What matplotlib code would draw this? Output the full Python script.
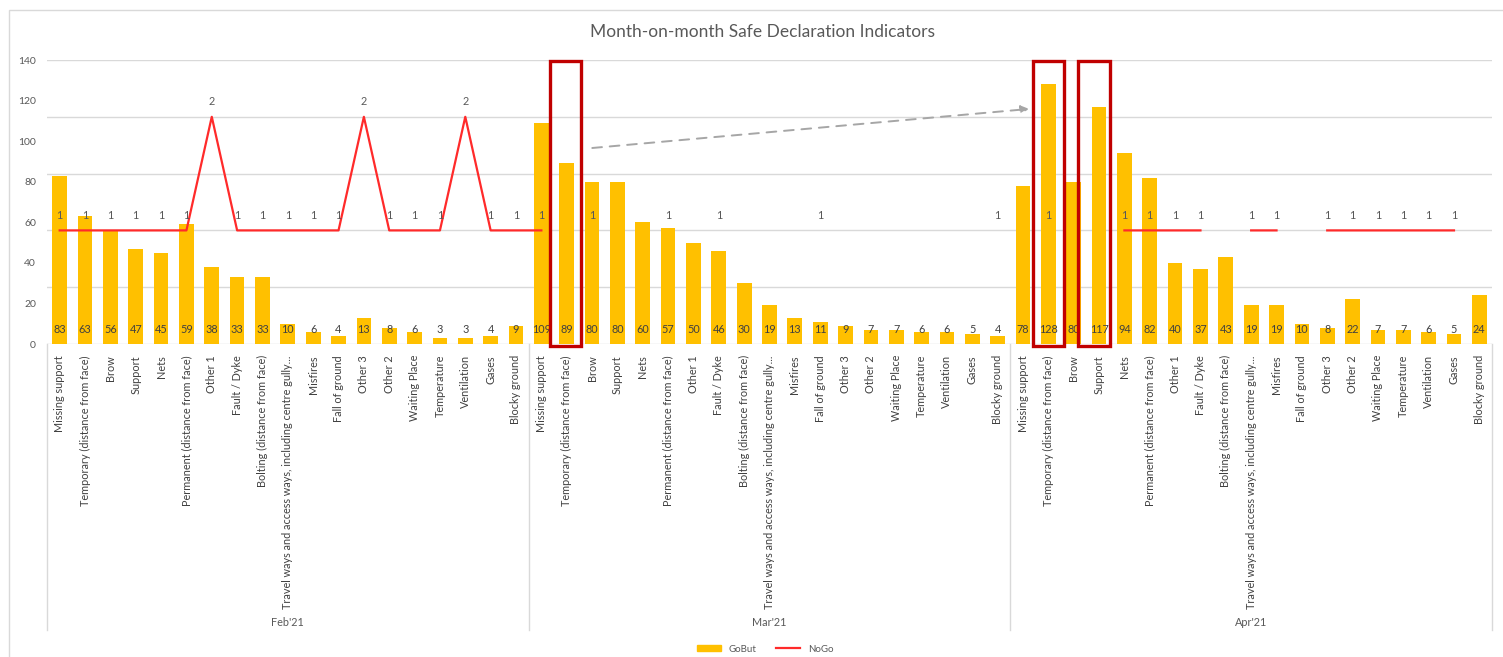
import numpy as np
import matplotlib
matplotlib.use("Agg")
import matplotlib.pyplot as plt
from matplotlib.patches import Rectangle
from matplotlib.lines import Line2D

plt.rcParams['font.family'] = ['Lato', 'DejaVu Sans']

categories = ['Missing support', 'Temporary (distance from face)', 'Brow', 'Support', 'Nets',
              'Permanent (distance from face)', 'Other 1', 'Fault / Dyke',
              'Bolting (distance from face)',
              'Travel ways and access ways, including centre gully...',
              'Misfires', 'Fall of ground', 'Other 3', 'Other 2', 'Waiting Place',
              'Temperature', 'Ventilation', 'Gases', 'Blocky ground']
months = ["Feb'21", "Mar'21", "Apr'21"]

gobut_feb = [83, 63, 56, 47, 45, 59, 38, 33, 33, 10, 6, 4, 13, 8, 6, 3, 3, 4, 9]
gobut_mar = [109, 89, 80, 80, 60, 57, 50, 46, 30, 19, 13, 11, 9, 7, 7, 6, 6, 5, 4]
gobut_apr = [78, 128, 80, 117, 94, 82, 40, 37, 43, 19, 19, 10, 8, 22, 7, 7, 6, 5, 24]

nan = np.nan
nogo_feb = [1, 1, 1, 1, 1, 1, 2, 1, 1, 1, 1, 1, 2, 1, 1, 1, 2, 1, 1]
nogo_mar = [1, nan, 1, nan, nan, 1, nan, 1, nan, nan, nan, 1, nan, nan, nan, nan, nan, nan, 1]
nogo_apr = [nan, 1, nan, nan, 1, 1, 1, 1, nan, 1, 1, nan, 1, 1, 1, 1, 1, 1, nan]

gobut = np.array(gobut_feb + gobut_mar + gobut_apr, dtype=float)
nogo = np.array(nogo_feb + nogo_mar + nogo_apr, dtype=float)
n_cat = len(categories)
x = np.arange(len(gobut))

W, H = 1503, 657
fig = plt.figure(figsize=(W / 100, H / 100), dpi=100)
ax = fig.add_axes([47 / W, 1 - 344 / H, (1492 - 47) / W, (344 - 60) / H])
ax2 = ax.twinx()

grey_txt = '#595959'
ax.set_ylim(0, 140)
ax.set_xlim(-0.5, len(x) - 0.5)
ax2.set_ylim(0, 2.5)
ax2_ticks = np.arange(0, 2.51, 0.5)
ax2.set_yticks(ax2_ticks)
ax2.set_yticklabels([f'{t:g}' for t in ax2_ticks])
for t in ax2_ticks:
    ax.axhline(t * 140 / 2.5, color='#D9D9D9', lw=1, zorder=0)

ax.set_yticks(np.arange(0, 141, 20))
ax.tick_params(axis='y', length=0, labelsize=7.5, labelcolor=grey_txt, pad=8)
ax2.tick_params(axis='y', length=0, labelsize=7.5, labelcolor=grey_txt, pad=8)
for a in (ax, ax2):
    for s in a.spines.values():
        s.set_visible(False)

bars = ax.bar(x, gobut, width=0.58, color='#FFC000', zorder=2, label='GoBut')
for xi, v in zip(x, gobut):
    ax.text(xi, 7, f'{int(v)}', ha='center', va='center', fontsize=7.8, color='#404040', zorder=3)

ax2.plot(x, nogo, color='#FF2A2A', lw=1.6, label='NoGo')
for xi, v in zip(x, nogo):
    if not np.isnan(v):
        ax2.annotate(f'{int(v)}', (xi, v), xytext=(0, 11), textcoords='offset points',
                     ha='center', va='center', fontsize=7.8, color=grey_txt)

ax.set_xticks(x)
ax.set_xticklabels(categories * len(months), rotation=90, fontsize=7.8, color='#404040', va='top')
ax.tick_params(axis='x', length=0, pad=8)

# group separators and month labels
trans = ax.get_xaxis_transform()
for b in np.arange(len(months) + 1) * n_cat - 0.5:
    ax.plot([b, b], [0, -1.007], transform=trans, color='#D9D9D9', lw=1, clip_on=False)
for i, m in enumerate(months):
    ax.text(i * n_cat + (n_cat - 1) / 2, -0.979, m, transform=trans, ha='center', va='center',
            fontsize=7.8, color=grey_txt)

# highlight boxes
i_mar_temp = n_cat + 1
i_apr_temp = 2 * n_cat + 1
i_apr_supp = 2 * n_cat + 3
for xc, l, r in [(i_mar_temp, 0.65, 0.55), (i_apr_temp, 0.6, 0.6), (i_apr_supp, 0.85, 0.45)]:
    ax.add_patch(Rectangle((xc - l, -1), l + r, 140.5, fill=False, edgecolor='#C00000',
                           lw=2.4, zorder=4, clip_on=False))
ax.annotate('', xy=(i_apr_temp - 0.65, 116), xytext=(i_mar_temp + 0.9, 96.5),
            arrowprops=dict(arrowstyle='-|>', color='#A6A6A6', lw=1.4, linestyle=(0, (5, 4)),
                            mutation_scale=12), zorder=4)

fig.text(0.507, 1 - 32 / H, 'Month-on-month Safe Declaration Indicators', ha='center', va='center',
         fontsize=12.5, color=grey_txt)

handles = [Rectangle((0, 0), 1, 1, color='#FFC000'), Line2D([0], [0], color='#FF2A2A', lw=1.6)]
fig.legend(handles, ['GoBut', 'NoGo'], loc='center', bbox_to_anchor=(765 / W, 1 - 649 / H),
           ncol=2, frameon=False, fontsize=7, labelcolor=grey_txt, handlelength=2.5,
           handleheight=0.5, columnspacing=2)

fig.patches.append(Rectangle((9 / W, -0.02), 1.1, 1 - 10 / H + 0.02, transform=fig.transFigure,
                             fill=False, edgecolor='#D9D9D9', lw=1))

fig.savefig('out.png', dpi=100)
